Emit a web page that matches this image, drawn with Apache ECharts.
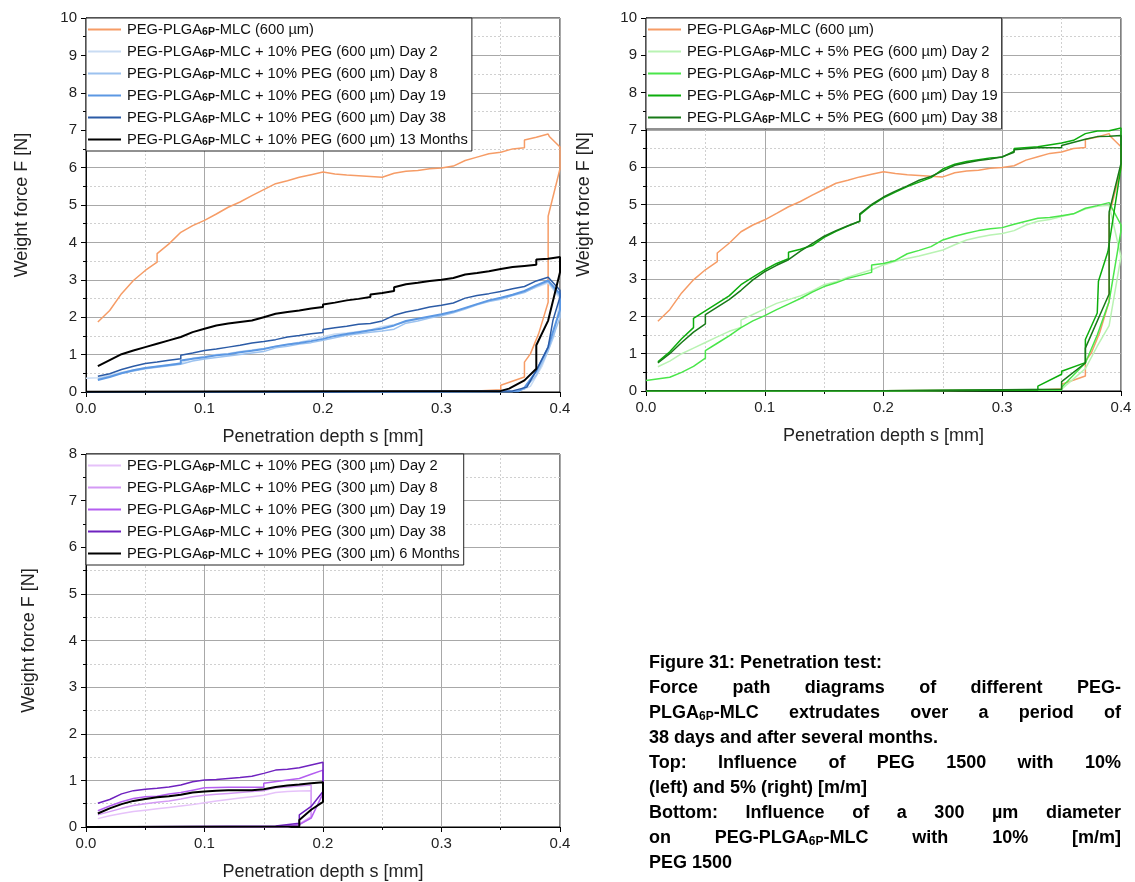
<!DOCTYPE html>
<html>
<head>
<meta charset="utf-8">
<script src="https://cdn.jsdelivr.net/npm/echarts@6/dist/echarts.min.js"></script>
<style>
html,body{margin:0;padding:0;background:#fff;}
#chart{position:absolute;left:0;top:0;width:1135px;height:882px;}
#caption{position:absolute;left:649px;top:650px;width:472px;font-family:"Liberation Sans",Arial,sans-serif;font-weight:bold;font-size:18px;line-height:25px;color:#000;}
#caption div{white-space:nowrap;}
#caption .j{text-align:justify;text-align-last:justify;}
#caption sub{font-size:12px;vertical-align:-2px;line-height:0;}
</style>
</head>
<body>
<div id="chart"></div>
<div id="caption">
<div>Figure 31: Penetration test:</div>
<div class="j">Force path diagrams of different PEG-</div>
<div class="j">PLGA<sub>6P</sub>-MLC extrudates over a period of</div>
<div>38 days and after several months.</div>
<div class="j">Top: Influence of PEG 1500 with 10%</div>
<div>(left) and 5% (right) [m/m]</div>
<div class="j">Bottom: Influence of a 300 µm diameter</div>
<div class="j">on PEG-PLGA<sub>6P</sub>-MLC with 10% [m/m]</div>
<div>PEG 1500</div>
</div>
<script>
// ---------- tick labels ----------
const xTicks = [0, 0.1, 0.2, 0.3, 0.4];
const yMaxTop = 10;
const yMaxBottom = 8;

// ---------- series names ----------
const nameRef = 'PEG-PLGA6P-MLC (600 µm)';
const namesTL = ['PEG-PLGA6P-MLC + 10% PEG (600 µm) Day 2','PEG-PLGA6P-MLC + 10% PEG (600 µm) Day 8','PEG-PLGA6P-MLC + 10% PEG (600 µm) Day 19','PEG-PLGA6P-MLC + 10% PEG (600 µm) Day 38','PEG-PLGA6P-MLC + 10% PEG (600 µm) 13 Months'];
const namesTR = ['PEG-PLGA6P-MLC + 5% PEG (600 µm) Day 2','PEG-PLGA6P-MLC + 5% PEG (600 µm) Day 8','PEG-PLGA6P-MLC + 5% PEG (600 µm) Day 19','PEG-PLGA6P-MLC + 5% PEG (600 µm) Day 38'];
const namesBL = ['PEG-PLGA6P-MLC + 10% PEG (300 µm) Day 2','PEG-PLGA6P-MLC + 10% PEG (300 µm) Day 8','PEG-PLGA6P-MLC + 10% PEG (300 µm) Day 19','PEG-PLGA6P-MLC + 10% PEG (300 µm) Day 38','PEG-PLGA6P-MLC + 10% PEG (300 µm) 6 Months'];

// ---------- data [s mm, F N] ----------
const ref600 = [[0.01,1.87],[0.02,2.18],[0.03,2.63],[0.04,2.98],[0.05,3.25],[0.06,3.47],[0.06,3.70],[0.07,3.96],[0.08,4.27],[0.09,4.45],[0.10,4.59],[0.11,4.76],[0.12,4.94],[0.13,5.08],[0.14,5.25],[0.15,5.41],[0.16,5.57],[0.17,5.65],[0.18,5.74],[0.19,5.81],[0.20,5.88],[0.21,5.83],[0.22,5.80],[0.23,5.78],[0.23,5.74],[0.25,5.74],[0.26,5.85],[0.27,5.90],[0.28,5.92],[0.29,5.97],[0.30,5.99],[0.31,6.04],[0.32,6.19],[0.33,6.28],[0.34,6.37],[0.35,6.41],[0.35,6.46],[0.36,6.50],[0.37,6.53],[0.37,6.74],[0.38,6.81],[0.39,6.90],[0.391,6.83],[0.40,6.55],[0.40,5.97],[0.39,4.70],[0.39,2.40],[0.382,1.56],[0.375,1.02],[0.37,0.80],[0.37,0.40],[0.35,0.18],[0.35,0.06],[0.33,0.03],[0.20,0.01],[0.0,0.0]];

const b10d2 = [[0.0,0.37],[0.01,0.38],[0.02,0.45],[0.03,0.53],[0.04,0.59],[0.05,0.64],[0.06,0.68],[0.07,0.72],[0.08,0.78],[0.09,0.90],[0.10,0.95],[0.11,1.00],[0.12,1.03],[0.13,1.08],[0.14,1.12],[0.15,1.16],[0.16,1.22],[0.17,1.27],[0.18,1.33],[0.19,1.40],[0.20,1.48],[0.21,1.55],[0.22,1.58],[0.23,1.62],[0.24,1.66],[0.25,1.75],[0.26,1.80],[0.27,1.88],[0.28,1.95],[0.29,2.00],[0.30,2.06],[0.31,2.14],[0.32,2.24],[0.33,2.35],[0.34,2.43],[0.35,2.50],[0.36,2.60],[0.37,2.68],[0.38,2.80],[0.39,2.92],[0.40,2.50],[0.395,1.50],[0.385,0.70],[0.375,0.15],[0.365,0.02],[0.20,0.0],[0.0,0.0]];
const b10d8 = [[0.01,0.35],[0.02,0.42],[0.03,0.50],[0.04,0.56],[0.05,0.62],[0.06,0.66],[0.07,0.70],[0.08,0.74],[0.09,0.83],[0.10,0.88],[0.11,0.92],[0.12,0.96],[0.13,1.00],[0.14,1.04],[0.15,1.08],[0.16,1.18],[0.17,1.22],[0.18,1.28],[0.19,1.32],[0.20,1.38],[0.21,1.45],[0.22,1.52],[0.23,1.56],[0.24,1.60],[0.25,1.63],[0.26,1.68],[0.27,1.84],[0.28,1.90],[0.29,1.98],[0.30,2.04],[0.31,2.12],[0.32,2.22],[0.33,2.33],[0.34,2.42],[0.35,2.48],[0.36,2.58],[0.37,2.66],[0.38,2.82],[0.39,2.95],[0.40,2.55],[0.40,2.00],[0.39,1.10],[0.38,0.45],[0.37,0.08],[0.36,0.01],[0.20,0.0],[0.0,0.0]];
const b10d19 = [[0.01,0.32],[0.02,0.40],[0.03,0.50],[0.04,0.58],[0.05,0.64],[0.06,0.68],[0.07,0.72],[0.08,0.76],[0.08,0.84],[0.09,0.89],[0.10,0.93],[0.11,0.98],[0.12,1.01],[0.13,1.06],[0.14,1.10],[0.15,1.15],[0.16,1.22],[0.17,1.27],[0.18,1.31],[0.19,1.36],[0.20,1.42],[0.21,1.50],[0.22,1.55],[0.23,1.60],[0.24,1.65],[0.25,1.70],[0.26,1.78],[0.27,1.90],[0.28,1.96],[0.29,2.02],[0.30,2.08],[0.31,2.15],[0.32,2.25],[0.33,2.35],[0.34,2.45],[0.35,2.52],[0.36,2.60],[0.37,2.70],[0.38,2.85],[0.39,2.98],[0.40,2.62],[0.40,2.20],[0.395,1.70],[0.39,1.20],[0.38,0.55],[0.37,0.12],[0.365,0.02],[0.20,0.0],[0.0,0.0]];
const b10d38 = [[0.01,0.42],[0.02,0.49],[0.03,0.60],[0.04,0.69],[0.05,0.76],[0.06,0.80],[0.07,0.85],[0.08,0.89],[0.08,0.98],[0.09,1.04],[0.10,1.11],[0.11,1.15],[0.12,1.20],[0.13,1.25],[0.14,1.31],[0.15,1.35],[0.16,1.40],[0.16,1.45],[0.17,1.47],[0.18,1.51],[0.19,1.56],[0.20,1.59],[0.20,1.67],[0.21,1.72],[0.22,1.76],[0.23,1.81],[0.24,1.83],[0.25,1.90],[0.26,2.05],[0.27,2.14],[0.28,2.20],[0.29,2.27],[0.30,2.32],[0.31,2.38],[0.32,2.51],[0.33,2.58],[0.34,2.63],[0.35,2.69],[0.36,2.76],[0.37,2.82],[0.38,2.97],[0.39,3.07],[0.40,2.72],[0.40,2.54],[0.394,1.91],[0.39,1.20],[0.38,0.58],[0.372,0.13],[0.36,0.03],[0.20,0.0],[0.0,0.0]];
const k10m13 = [[0.01,0.69],[0.02,0.85],[0.03,1.01],[0.04,1.11],[0.05,1.20],[0.06,1.29],[0.07,1.38],[0.08,1.47],[0.09,1.60],[0.10,1.69],[0.11,1.78],[0.12,1.83],[0.13,1.87],[0.14,1.91],[0.15,2.00],[0.16,2.09],[0.17,2.14],[0.18,2.18],[0.19,2.23],[0.20,2.27],[0.20,2.34],[0.21,2.39],[0.22,2.45],[0.23,2.49],[0.24,2.54],[0.24,2.61],[0.25,2.65],[0.26,2.70],[0.26,2.80],[0.27,2.88],[0.28,2.92],[0.29,2.97],[0.30,3.00],[0.31,3.05],[0.32,3.14],[0.33,3.18],[0.34,3.23],[0.35,3.29],[0.36,3.34],[0.37,3.37],[0.38,3.40],[0.38,3.54],[0.39,3.56],[0.40,3.61],[0.40,3.20],[0.39,1.91],[0.38,1.25],[0.38,0.62],[0.37,0.31],[0.357,0.09],[0.35,0.03],[0.20,0.02],[0.0,0.01]];

const g5d2 = [[0.01,0.65],[0.02,0.80],[0.03,1.00],[0.04,1.15],[0.05,1.30],[0.06,1.45],[0.07,1.60],[0.08,1.70],[0.08,1.90],[0.09,2.05],[0.10,2.20],[0.11,2.35],[0.12,2.45],[0.13,2.55],[0.14,2.68],[0.15,2.85],[0.16,2.93],[0.17,3.05],[0.18,3.15],[0.19,3.25],[0.20,3.38],[0.21,3.48],[0.22,3.55],[0.23,3.62],[0.24,3.70],[0.25,3.78],[0.26,3.92],[0.27,4.05],[0.28,4.12],[0.29,4.18],[0.30,4.22],[0.31,4.30],[0.32,4.45],[0.33,4.55],[0.34,4.60],[0.35,4.68],[0.36,4.75],[0.37,4.88],[0.38,4.95],[0.39,4.98],[0.40,3.60],[0.39,1.75],[0.38,1.20],[0.37,0.60],[0.35,0.05],[0.20,0.0],[0.0,0.0]];
const g5d8 = [[0.0,0.28],[0.02,0.37],[0.03,0.50],[0.04,0.66],[0.05,0.88],[0.05,1.08],[0.06,1.28],[0.07,1.48],[0.08,1.70],[0.09,1.88],[0.10,2.02],[0.11,2.18],[0.12,2.33],[0.13,2.48],[0.14,2.65],[0.15,2.80],[0.16,2.90],[0.17,3.02],[0.18,3.10],[0.19,3.18],[0.19,3.38],[0.20,3.42],[0.21,3.50],[0.22,3.68],[0.23,3.77],[0.24,3.87],[0.25,4.05],[0.26,4.15],[0.27,4.23],[0.28,4.30],[0.29,4.35],[0.30,4.38],[0.31,4.47],[0.32,4.55],[0.33,4.63],[0.34,4.65],[0.35,4.70],[0.36,4.75],[0.37,4.90],[0.38,4.97],[0.39,5.05],[0.40,4.45],[0.40,4.30],[0.39,2.40],[0.38,1.50],[0.37,0.75],[0.35,0.10],[0.35,0.02],[0.20,0.0],[0.0,0.0]];
const g5d19 = [[0.01,0.78],[0.02,1.05],[0.03,1.40],[0.04,1.70],[0.04,1.95],[0.05,2.15],[0.06,2.35],[0.07,2.55],[0.08,2.85],[0.09,3.05],[0.10,3.25],[0.11,3.42],[0.12,3.55],[0.12,3.72],[0.13,3.80],[0.14,3.90],[0.15,4.12],[0.16,4.28],[0.17,4.42],[0.18,4.55],[0.18,4.72],[0.19,4.98],[0.20,5.18],[0.21,5.33],[0.22,5.48],[0.23,5.60],[0.24,5.72],[0.25,5.95],[0.26,6.08],[0.27,6.15],[0.28,6.20],[0.29,6.25],[0.30,6.27],[0.31,6.43],[0.31,6.50],[0.33,6.55],[0.35,6.65],[0.36,6.72],[0.37,6.90],[0.38,6.97],[0.39,6.98],[0.40,7.05],[0.40,6.00],[0.389,3.74],[0.381,2.94],[0.38,2.09],[0.37,1.38],[0.37,0.76],[0.35,0.53],[0.35,0.45],[0.33,0.13],[0.33,0.03],[0.20,0.01],[0.0,0.01]];
const g5d38 = [[0.01,0.75],[0.02,1.00],[0.03,1.30],[0.04,1.58],[0.05,1.80],[0.05,2.05],[0.06,2.25],[0.07,2.45],[0.08,2.70],[0.09,2.98],[0.10,3.20],[0.11,3.37],[0.12,3.52],[0.13,3.75],[0.14,3.95],[0.15,4.15],[0.16,4.30],[0.17,4.43],[0.18,4.55],[0.18,4.75],[0.19,5.00],[0.20,5.20],[0.21,5.36],[0.22,5.50],[0.23,5.65],[0.24,5.75],[0.25,5.90],[0.26,6.05],[0.27,6.12],[0.28,6.18],[0.29,6.22],[0.30,6.28],[0.31,6.40],[0.31,6.47],[0.33,6.52],[0.35,6.52],[0.35,6.58],[0.37,6.75],[0.38,6.82],[0.39,6.83],[0.40,6.85],[0.40,6.10],[0.39,4.80],[0.39,2.60],[0.37,1.15],[0.37,0.75],[0.35,0.25],[0.35,0.05],[0.20,0.01],[0.0,0.01]];

const p10d2 = [[0.01,0.18],[0.02,0.24],[0.03,0.29],[0.04,0.33],[0.05,0.36],[0.06,0.39],[0.07,0.42],[0.08,0.45],[0.09,0.48],[0.10,0.52],[0.11,0.56],[0.12,0.59],[0.13,0.62],[0.14,0.65],[0.15,0.68],[0.16,0.74],[0.17,0.76],[0.18,0.77],[0.19,0.78],[0.19,0.20],[0.18,0.05],[0.17,0.0],[0.0,0.0]];
const p10d8 = [[0.01,0.26],[0.02,0.33],[0.03,0.40],[0.04,0.46],[0.05,0.50],[0.06,0.53],[0.07,0.56],[0.08,0.60],[0.09,0.65],[0.10,0.68],[0.11,0.70],[0.12,0.72],[0.13,0.74],[0.14,0.76],[0.15,0.78],[0.15,0.82],[0.16,0.84],[0.17,0.86],[0.18,0.88],[0.19,0.90],[0.19,0.22],[0.18,0.06],[0.17,0.0],[0.0,0.0]];
const p10d19 = [[0.01,0.35],[0.02,0.45],[0.03,0.54],[0.04,0.61],[0.05,0.65],[0.06,0.66],[0.07,0.71],[0.08,0.74],[0.09,0.79],[0.10,0.84],[0.12,0.85],[0.14,0.85],[0.15,0.85],[0.15,0.94],[0.17,1.01],[0.18,1.04],[0.19,1.13],[0.20,1.22],[0.20,0.72],[0.19,0.19],[0.18,0.05],[0.16,0.0],[0.0,0.0]];
const p10d38 = [[0.01,0.51],[0.02,0.59],[0.03,0.71],[0.04,0.78],[0.05,0.81],[0.06,0.83],[0.07,0.86],[0.08,0.90],[0.09,0.97],[0.10,1.01],[0.11,1.02],[0.12,1.04],[0.13,1.06],[0.14,1.09],[0.15,1.15],[0.16,1.22],[0.17,1.24],[0.18,1.27],[0.19,1.33],[0.20,1.39],[0.20,0.76],[0.19,0.44],[0.18,0.26],[0.18,0.08],[0.16,0.02],[0.0,0.0]];
const k10m6 = [[0.01,0.29],[0.02,0.40],[0.03,0.49],[0.04,0.56],[0.05,0.60],[0.06,0.64],[0.07,0.66],[0.08,0.69],[0.09,0.74],[0.10,0.76],[0.11,0.78],[0.12,0.79],[0.13,0.79],[0.14,0.79],[0.15,0.81],[0.15,0.85],[0.16,0.86],[0.17,0.89],[0.18,0.91],[0.19,0.94],[0.20,0.96],[0.20,0.54],[0.19,0.37],[0.18,0.15],[0.18,0.01],[0.0,0.0]];

// ---------- styling ----------
const FONT = '"Liberation Sans", Arial, sans-serif';
const C = {
  ref:'#f69c66',
  b:['#c9dcf3','#9cc2ef','#5c98e3','#2b5ba6','#000000'],
  g:['#b9f3b3','#4ae64a','#0cad0c','#187a18'],
  p:['#e6c2fa','#d49af5','#b45ef0','#6f22bf','#000000']
};
const W = {b:[1.5,1.5,2,1.5,2], g:[1.5,1.5,1.5,1.5], p:[1.5,1.5,1.5,1.5,2]};

const grids = [
  {left:86, top:18, width:474, height:374},
  {left:646, top:18, width:475, height:373},
  {left:86, top:454, width:474, height:373}
];

function xAx(i){
  return {gridIndex:i, type:'value', min:0, max:0.4, interval:0.1,
    name:'Penetration depth s [mm]', nameLocation:'middle', nameGap:36,
    nameTextStyle:{fontFamily:FONT, fontSize:18, color:'#222'},
    axisLine:{show:true, onZero:false, lineStyle:{color:'#000', width:1}},
    axisTick:{show:true, inside:false, length:5, lineStyle:{color:'#000'}},
    minorTick:{show:true, splitNumber:2, length:3, lineStyle:{color:'#000'}},
    axisLabel:{fontFamily:FONT, fontSize:15, color:'#222', margin:9, formatter:v=>v.toFixed(1)},
    splitLine:{show:true, lineStyle:{color:'#a8a8a8', width:1}},
    minorSplitLine:{show:true, lineStyle:{color:'#d0d0d0', type:[2,2], width:1}}
  };
}
function yAx(i, max, gap){
  return {gridIndex:i, type:'value', min:0, max:max, interval:1,
    name:'Weight force F [N]', nameLocation:'middle', nameGap:gap, nameRotate:90,
    nameTextStyle:{fontFamily:FONT, fontSize:18, color:'#222'},
    axisLine:{show:true, onZero:false, lineStyle:{color:'#000', width:1}},
    axisTick:{show:true, inside:false, length:5, lineStyle:{color:'#000'}},
    minorTick:{show:true, splitNumber:2, length:3, lineStyle:{color:'#000'}},
    axisLabel:{fontFamily:FONT, fontSize:15, color:'#222', margin:9},
    splitLine:{show:true, lineStyle:{color:'#a8a8a8', width:1}},
    minorSplitLine:{show:true, lineStyle:{color:'#d0d0d0', type:[2,2], width:1}}
  };
}
function ser(name, data, color, width, gi){
  return {type:'line', name:name, data:data, xAxisIndex:gi, yAxisIndex:gi,
    symbol:'none', showSymbol:false, animation:false, clip:true,
    lineStyle:{color:color, width:width}, itemStyle:{color:color}};
}
function leg(names, left, top){
  return {orient:'vertical', left:left, top:top, data:names, icon:'rect', itemWidth:33, itemHeight:2, itemGap:5,
    backgroundColor:'#fff', borderColor:'#222', borderWidth:1, padding:[3,4,3,2], selectedMode:false,
    formatter: n => n.replace('PLGA6P','PLGA{s|6P}'),
    textStyle:{fontFamily:FONT, fontSize:14.7, color:'#111', lineHeight:17, padding:[0,0,0,1],
      rich:{s:{fontFamily:FONT, fontSize:10.5, fontWeight:'bold', color:'#111', verticalAlign:'bottom', lineHeight:10}}}
  };
}

const series = [];
series.push(ser(nameRef, ref600, C.ref, 1.5, 0));
[b10d2,b10d8,b10d19,b10d38,k10m13].forEach((d,i)=>series.push(ser(namesTL[i], d, C.b[i], W.b[i], 0)));
series.push(ser(nameRef, ref600, C.ref, 1.5, 1));
[g5d2,g5d8,g5d19,g5d38].forEach((d,i)=>series.push(ser(namesTR[i], d, C.g[i], W.g[i], 1)));
[p10d2,p10d8,p10d19,p10d38,k10m6].forEach((d,i)=>series.push(ser(namesBL[i], d, C.p[i], W.p[i], 2)));

const chart = echarts.init(document.getElementById('chart'), null, {renderer:'canvas'});
chart.setOption({
  animation:false,
  backgroundColor:'#fff',
  grid: grids.map(g=>Object.assign({show:true, borderColor:'#000', borderWidth:1, backgroundColor:'transparent'}, g)),
  xAxis:[xAx(0), xAx(1), xAx(2)],
  yAxis:[yAx(0,yMaxTop,55), yAx(1,yMaxTop,53), yAx(2,yMaxBottom,48)],
  legend:[leg([nameRef].concat(namesTL), 86, 18), leg([nameRef].concat(namesTR), 646, 18), leg(namesBL, 86, 454)],
  series: series
});
</script>
</body>
</html>
